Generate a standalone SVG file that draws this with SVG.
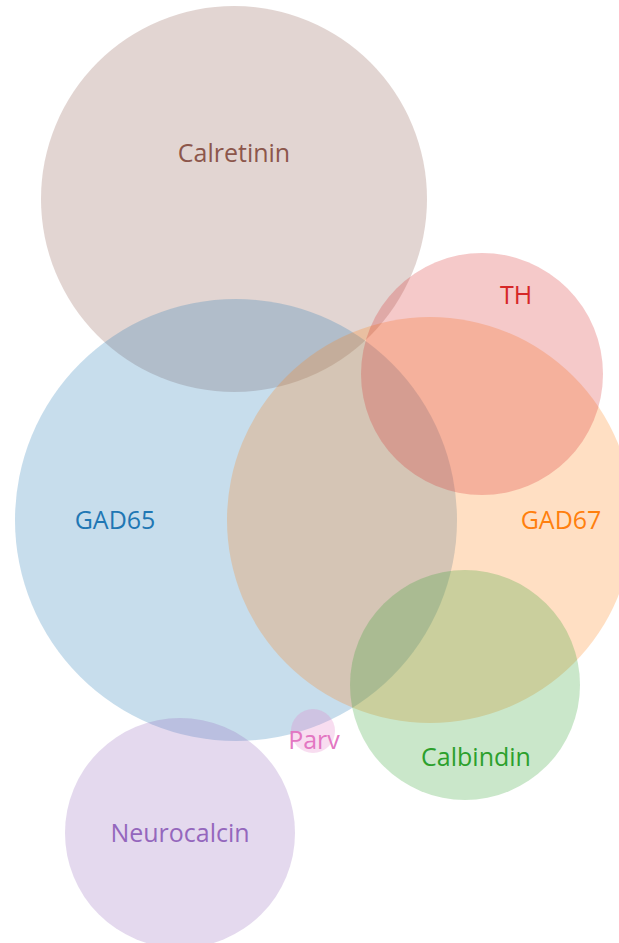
<svg xmlns="http://www.w3.org/2000/svg" width="619" height="943" viewBox="0 0 619 943">
<style>
circle{fill-opacity:0.25;stroke:none}
text{font-family:"Open Sans","Noto Sans",sans-serif;font-size:25px;text-anchor:middle;dominant-baseline:central}
</style>
<rect width="619" height="943" fill="#fff"/>
<g id="calretinin"><circle cx="234" cy="199" r="193" fill="#8c564b"/></g>
<g id="gad65"><circle cx="236" cy="520" r="221" fill="#1f77b4"/></g>
<g id="gad67"><circle cx="430" cy="520" r="203" fill="#ff7f0e"/></g>
<g id="th"><circle cx="482" cy="374" r="121" fill="#d62728"/></g>
<g id="calbindin"><circle cx="465" cy="685" r="115" fill="#2ca02c"/></g>
<g id="parv"><circle cx="313" cy="731" r="22" fill="#e377c2"/></g>
<g id="neurocalcin"><circle cx="180" cy="833" r="115" fill="#9467bd"/></g>
<g id="labels">
<text x="234" y="152" fill="#8c564b">Calretinin</text>
<text x="115" y="519" fill="#1f77b4">GAD65</text>
<text x="561" y="519" fill="#ff7f0e">GAD67</text>
<text x="516" y="294" fill="#d62728">TH</text>
<text x="476" y="756" fill="#2ca02c">Calbindin</text>
<text x="314" y="739" fill="#e377c2">Parv</text>
<text x="180" y="832" fill="#9467bd">Neurocalcin</text>
</g>
</svg>
